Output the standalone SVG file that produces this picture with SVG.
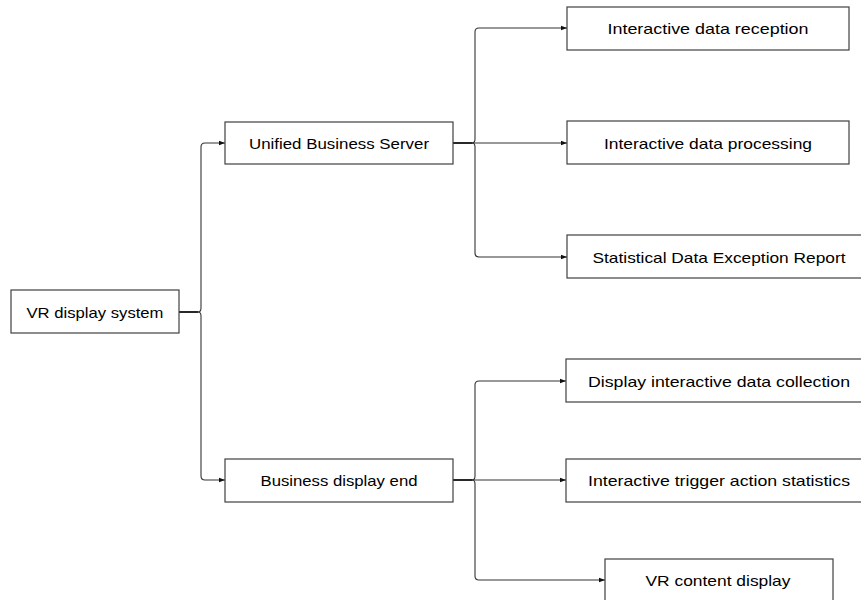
<svg xmlns="http://www.w3.org/2000/svg" width="861" height="600" viewBox="0 0 861 600">
<style>
.box{fill:#fff;stroke:#404040;stroke-width:1.2}
.lbl{font-family:"Liberation Sans",Arial,sans-serif;font-size:15px;fill:#000;text-anchor:middle;dominant-baseline:central}
.ln{fill:none;stroke:#333;stroke-width:1.1}
.stub{fill:none;stroke:#111;stroke-width:1.8}
</style>
<defs>
<marker id="ar" viewBox="0 0 6 6" refX="6" refY="3" markerWidth="6" markerHeight="6" markerUnits="userSpaceOnUse" orient="auto">
<path d="M0,0.8 L6,3 L0,5.2 z" fill="#111"/>
</marker>
</defs>
<rect width="861" height="600" fill="#fff"/>
<g id="connectors">
<path class="stub" d="M179 312 H198"/>
<path class="ln" d="M198 312 Q201 312 201 308 V147 Q201 143 205 143 H225" marker-end="url(#ar)"/>
<path class="ln" d="M198 312 Q201 312 201 316 V476 Q201 480 205 480 H225" marker-end="url(#ar)"/>
<path class="stub" d="M453 143 H472"/>
<path class="ln" d="M472 143 Q475 143 475 139 V32 Q475 28 479 28 H567" marker-end="url(#ar)"/>
<path class="ln" d="M472 143 H567" marker-end="url(#ar)"/>
<path class="ln" d="M472 143 Q475 143 475 147 V253 Q475 257 479 257 H567" marker-end="url(#ar)"/>
<path class="stub" d="M453 480 H472"/>
<path class="ln" d="M472 480 Q475 480 475 476 V385 Q475 381 479 381 H566" marker-end="url(#ar)"/>
<path class="ln" d="M472 480 H566" marker-end="url(#ar)"/>
<path class="ln" d="M472 480 Q475 480 475 484 V576 Q475 580 479 580 H605" marker-end="url(#ar)"/>
</g>
<g id="n-root"><rect class="box" x="11" y="290" width="168" height="43"/><text class="lbl" x="95" y="312" textLength="137" lengthAdjust="spacingAndGlyphs">VR display system</text></g>
<g id="n-server"><rect class="box" x="225" y="122" width="228" height="42"/><text class="lbl" x="339" y="143" textLength="180" lengthAdjust="spacingAndGlyphs">Unified Business Server</text></g>
<g id="n-display"><rect class="box" x="225" y="459" width="228" height="43"/><text class="lbl" x="339" y="480" textLength="157" lengthAdjust="spacingAndGlyphs">Business display end</text></g>
<g id="n-reception"><rect class="box" x="567" y="7" width="282" height="43"/><text class="lbl" x="708" y="28" textLength="201" lengthAdjust="spacingAndGlyphs">Interactive data reception</text></g>
<g id="n-processing"><rect class="box" x="567" y="121" width="282" height="43"/><text class="lbl" x="708" y="143" textLength="208" lengthAdjust="spacingAndGlyphs">Interactive data processing</text></g>
<g id="n-report"><rect class="box" x="567" y="235" width="300" height="43"/><text class="lbl" x="719" y="257" textLength="253" lengthAdjust="spacingAndGlyphs">Statistical Data Exception Report</text></g>
<g id="n-collection"><rect class="box" x="566" y="359" width="300" height="43"/><text class="lbl" x="719" y="381" textLength="262" lengthAdjust="spacingAndGlyphs">Display interactive data collection</text></g>
<g id="n-trigger"><rect class="box" x="566" y="459" width="300" height="43"/><text class="lbl" x="719" y="480" textLength="262" lengthAdjust="spacingAndGlyphs">Interactive trigger action statistics</text></g>
<g id="n-content"><rect class="box" x="605" y="559" width="228" height="50"/><text class="lbl" x="718" y="580" textLength="145" lengthAdjust="spacingAndGlyphs">VR content display</text></g>
</svg>
